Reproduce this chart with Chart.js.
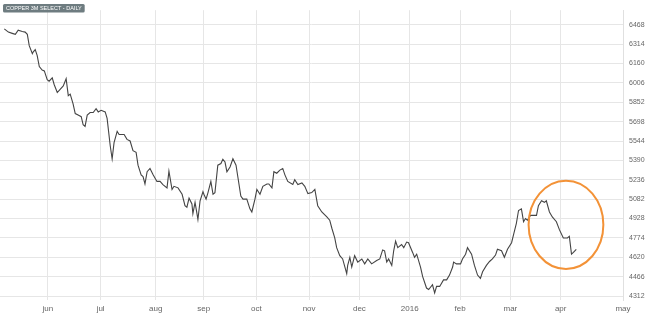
<!DOCTYPE html>
<html>
  <head>
    <title>Copper 3M Select - Daily</title>
    <style>
      body { margin: 0; background: #fff; }
      #wrap { width: 650px; height: 323px; position: relative; }
    </style>
    <script src="https://cdn.jsdelivr.net/npm/chart.js"></script>
  </head>
  <body>
    <div id="wrap"><canvas id="chart"></canvas></div>

    <script>
      // x = trading days counted from 1 Jun 2015
      var tradingDay = [
        -18.2, -16.5, -14.9, -13.6, -12.4, -10.7, -9.5, -8.6, -7.8, -6.5,
        -6.1, -5.3, -4.5, -3.6, -2.4, -1.5, -0.3, 0.5, 1.8, 2.6,
        3.9, 5.1, 6.4, 7.6, 8.5, 9.3, 10.5, 11.4, 12.6, 13.9,
        14.7, 15.5, 16.4, 17.6, 18.9, 20.1, 21.0, 22.2, 23.9, 24.7,
        26.0, 26.8, 27.6, 28.9, 29.7, 31.8, 33.0, 34.3, 35.5, 36.8,
        37.6, 38.9, 39.7, 40.5, 41.4, 42.6, 43.9, 45.5, 46.8, 48.0,
        49.7, 50.5, 51.8, 52.6, 54.3, 56.0, 57.2, 58.0, 58.9, 60.1,
        60.5, 61.4, 62.2, 62.6, 63.5, 64.7, 65.1, 66.0, 66.8, 68.0,
        68.9, 69.7, 70.9, 72.2, 73.0, 73.9, 74.7, 76.0, 77.2, 78.5,
        79.3, 80.5, 81.4, 83.0, 84.3, 85.1, 86.4, 87.2, 88.5, 89.7,
        91.4, 92.2, 93.5, 94.3, 95.5, 96.8, 98.0, 98.9, 100.1, 102.2,
        103.0, 104.3, 106.0, 107.2, 108.5, 110.1, 111.4, 112.6, 114.3, 116.4,
        117.6, 118.5, 119.7, 120.5, 121.8, 123.0, 124.7, 125.1, 126.0, 126.8,
        128.0, 129.3, 131.0, 132.2, 133.5, 135.1, 137.2, 138.5, 139.7, 140.5,
        141.4, 142.2, 143.5, 144.3, 145.1, 146.0, 147.6, 148.5, 149.7, 150.5,
        152.2, 153.0, 153.9, 155.5, 156.4, 158.0, 158.9, 160.5, 161.4, 162.2,
        163.5, 165.1, 166.4, 167.6, 168.9, 169.3, 170.5, 172.2, 173.0, 174.3,
        175.1, 176.8, 178.0, 179.3, 180.5, 181.4, 183.0, 184.3, 185.5, 186.8,
        187.6, 189.3, 190.5, 191.8, 193.5, 194.3, 195.5, 196.4, 197.6, 198.5,
        199.3, 200.1, 201.4, 202.6, 203.9, 204.7, 206.0, 207.2, 208.0, 209.3,
        210.5, 212.2, 213.5, 215.1, 216.8, 217.6, 218.5, 219.3, 220.5
      ];
      var price = [
        6435, 6409, 6399, 6391, 6424, 6414, 6409, 6391, 6301, 6237,
        6252, 6270, 6224, 6135, 6108, 6101, 6031, 6019, 6045, 5993,
        5929, 5954, 5981, 6039, 5904, 5916, 5839, 5762, 5750, 5737,
        5673, 5660, 5750, 5770, 5770, 5800, 5775, 5788, 5775, 5723,
        5506, 5403, 5531, 5621, 5596, 5596, 5557, 5544, 5467, 5454,
        5352, 5275, 5261, 5203, 5300, 5326, 5275, 5223, 5223, 5198,
        5172, 5305, 5159, 5184, 5172, 5121, 5030, 5018, 5090, 5044,
        4967, 5057, 4967, 4920, 5069, 5141, 5121, 5082, 5134, 5223,
        5121, 5134, 5352, 5365, 5398, 5377, 5300, 5338, 5403, 5352,
        5254, 5107, 5082, 5082, 5005, 4980, 5082, 5159, 5121, 5184,
        5203, 5203, 5172, 5300, 5288, 5313, 5326, 5275, 5223, 5198,
        5236, 5198, 5211, 5184, 5126, 5134, 5159, 5030, 4980, 4941,
        4915, 4851, 4774, 4697, 4633, 4607, 4491, 4556, 4620, 4543,
        4633, 4582, 4607, 4568, 4607, 4568, 4595, 4607, 4679, 4672,
        4582, 4607, 4556, 4672, 4749, 4697, 4722, 4697, 4741, 4736,
        4659, 4620, 4645, 4543, 4466, 4376, 4364, 4402, 4337, 4389,
        4389, 4441, 4441, 4479, 4543, 4582, 4568, 4568, 4607, 4645,
        4697, 4645, 4556, 4479, 4453, 4505, 4556, 4587, 4607, 4638,
        4684, 4672, 4620, 4684, 4736, 4799, 4890, 4992, 5005, 4903,
        4928, 4915, 4953, 4953, 4953, 5030, 5069, 5057, 5069, 4980,
        4941, 4903, 4838, 4774, 4774, 4787, 4645, 4659, 4684
      ];

      var monthLabels = ["jun", "jul", "aug", "sep", "oct", "nov", "dec", "2016", "feb", "mar", "apr", "may"];
      var monthTickPos = [0, 22, 45, 65, 87, 109, 130, 151, 172, 193, 214, 240];
      var priceTicks = [4312, 4466, 4620, 4774, 4928, 5082, 5236, 5390, 5544, 5698, 5852, 6006, 6160, 6314, 6468];

      // orange highlight ring, in data units
      var ring = { x: 216.2, y: 4878, rx: 15.6, ry: 350 };

      var overlay = {
        id: "overlay",
        afterDraw: function (chart) {
          var ctx = chart.ctx;
          var xs = chart.scales.x, ys = chart.scales.y;
          var cx = xs.getPixelForValue(ring.x), cy = ys.getPixelForValue(ring.y);
          var rx = Math.abs(xs.getPixelForValue(ring.x + ring.rx) - cx);
          var ry = Math.abs(ys.getPixelForValue(ring.y + ring.ry) - cy);
          ctx.save();
          ctx.strokeStyle = "#f39237";
          ctx.lineWidth = 2;
          ctx.beginPath();
          ctx.ellipse(cx, cy, rx, ry, 0, 0, Math.PI * 2);
          ctx.stroke();

          // title badge
          var label = "COPPER 3M SELECT - DAILY";
          ctx.font = "5.5px Arial, 'Liberation Sans', sans-serif";
          var w = ctx.measureText(label).width + 6;
          ctx.fillStyle = "#6e7c80";
          ctx.beginPath();
          ctx.roundRect(3, 4, w, 8.5, 1.5);
          ctx.fill();
          ctx.fillStyle = "#fff";
          ctx.textBaseline = "middle";
          ctx.fillText(label, 6, 8.4);
          ctx.restore();
        },
      };

      var points = tradingDay.map(function (d, i) {
        return { x: d, y: price[i] };
      });

      new Chart(document.getElementById("chart"), {
        type: "line",
        data: {
          datasets: [
            {
              data: points,
              borderColor: "#444",
              borderWidth: 1.1,
              pointRadius: 0,
              tension: 0,
              fill: false,
            },
          ],
        },
        options: {
          responsive: true,
          maintainAspectRatio: false,
          animation: false,
          layout: { padding: 0 },
          plugins: { legend: { display: false }, tooltip: { enabled: false } },
          scales: {
            x: {
              type: "linear",
              min: -20,
              max: 240,
              afterBuildTicks: function (scale) {
                scale.ticks = monthTickPos.map(function (v) {
                  return { value: v };
                });
              },
              afterFit: function (scale) {
                scale.height = 23;
              },
              ticks: {
                autoSkip: false,
                maxRotation: 0,
                padding: 4,
                color: "#666",
                font: { size: 8, family: "Arial, 'Liberation Sans', sans-serif" },
                callback: function (value) {
                  var i = monthTickPos.indexOf(value);
                  return i >= 0 ? monthLabels[i] : "";
                },
              },
              grid: { color: "#e6e6e6", drawTicks: false },
              border: { display: false },
            },
            y: {
              position: "right",
              min: 4281,
              max: 6583,
              afterBuildTicks: function (scale) {
                scale.ticks = priceTicks.map(function (v) {
                  return { value: v };
                });
              },
              afterFit: function (scale) {
                scale.width = 27;
              },
              ticks: {
                padding: 6,
                color: "#666",
                font: { size: 7, family: "Arial, 'Liberation Sans', sans-serif" },
                callback: function (value) {
                  return String(value);
                },
              },
              grid: { color: "#e6e6e6", drawTicks: false },
              border: { display: true, color: "#e0e0e0" },
            },
          },
        },
        plugins: [overlay],
      });
    </script>
  </body>
</html>
